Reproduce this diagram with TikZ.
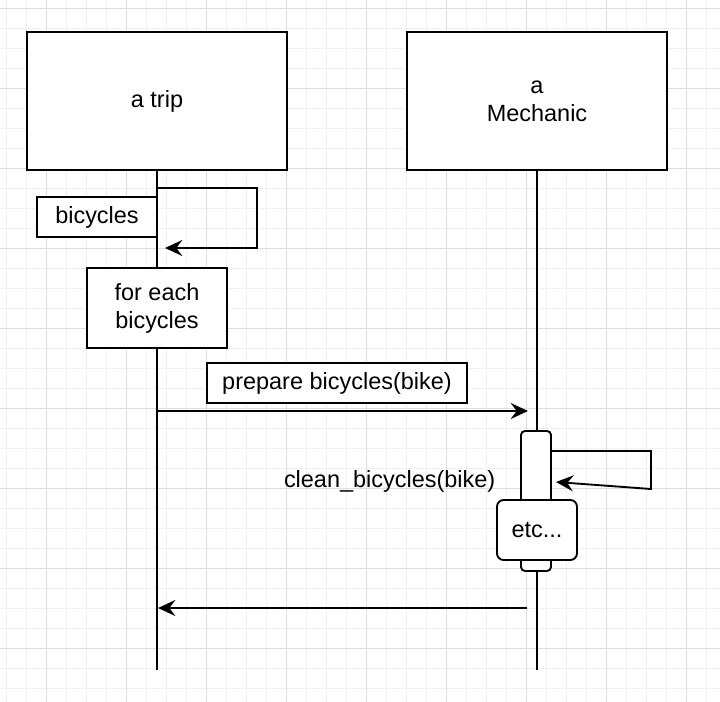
\documentclass[tikz,border=0pt]{standalone}
\usepackage{fontspec}
\setmainfont{Liberation Sans}
\usetikzlibrary{arrows.meta}

\tikzset{
  txt/.style={font=\fontsize{17.6}{21}\selectfont},
  lifebox/.style={draw, line width=1.4pt, fill=white, inner sep=0pt, align=center,
    minimum width=195pt, minimum height=103.5pt, txt},
  notebox/.style={draw, line width=1.4pt, fill=white, inner sep=0pt, align=center, txt},
  actbar/.style={draw, line width=1.4pt, fill=white, rounded corners=3pt,
    minimum width=22.5pt, minimum height=105pt, inner sep=0pt},
  msg/.style={line width=1.4pt, -{Stealth[length=13pt, width=12pt, inset=4.5pt]}},
  minorline/.style={line width=0.9pt, black!6},
  majorline/.style={line width=0.9pt, black!13},
}

\begin{document}
\begin{tikzpicture}[x=0.75pt, y=-0.75pt]
\useasboundingbox (0,0) rectangle (720,702);
\fill[white] (0,0) rectangle (720,702);
\foreach \gx in {6.7,26.7,...,720} \draw[minorline] (\gx,0) -- (\gx,702);
\foreach \gy in {8.3,28.3,...,702} \draw[minorline] (0,\gy) -- (720,\gy);
\foreach \gx in {46.7,126.7,...,720} \draw[majorline] (\gx,0) -- (\gx,702);
\foreach \gy in {8.3,88.3,...,702} \draw[majorline] (0,\gy) -- (720,\gy);

% lifeline heads
\node[lifebox] (trip) at (157,101) {a trip};
\node[lifebox] (mech) at (537,101) {a\\Mechanic};

% lifelines
\coordinate (tripend) at (157,670);
\coordinate (mechend) at (537,670);
\draw[line width=1.4pt] (trip.south) -- (tripend);
\draw[line width=1.4pt] (mech.south) -- (mechend);

% self call on the trip
\coordinate (loopa) at (157,188);
\coordinate (loopb) at (257,248);
\coordinate (loopc) at (165,248);
\draw[msg] (loopa) -| (loopb) -- (loopc);
\node[notebox, minimum width=90pt, minimum height=30pt] (bikes) at (97,217) {bicycles};
\node[notebox, minimum width=105pt, minimum height=60pt] (foreach) at (157,308) {for each\\bicycles};

% message to the mechanic
\node[notebox, minimum width=195pt, minimum height=30pt] (prep) at (337,383) {prepare bicycles(bike)};
\coordinate (prepa) at (157,411);
\coordinate (prepb) at (528,411);
\draw[msg] (prepa) -- (prepb);

% activation of the mechanic
\node[actbar] (act) at (536,501) {};
\coordinate (cleana) at (551,451);
\coordinate (cleanb) at (651,489);
\coordinate (cleanc) at (556,482);
\draw[msg] (cleana) -| (cleanb) -- (cleanc);
\node[txt, anchor=east] (clean) at (500,481) {clean\_bicycles(bike)};
\node[notebox, rounded corners=5pt, minimum width=60pt, minimum height=45pt] (etc) at (537,530) {etc...};

% return
\coordinate (reta) at (527,608);
\coordinate (retb) at (158,608);
\draw[msg] (reta) -- (retb);
\end{tikzpicture}
\end{document}
